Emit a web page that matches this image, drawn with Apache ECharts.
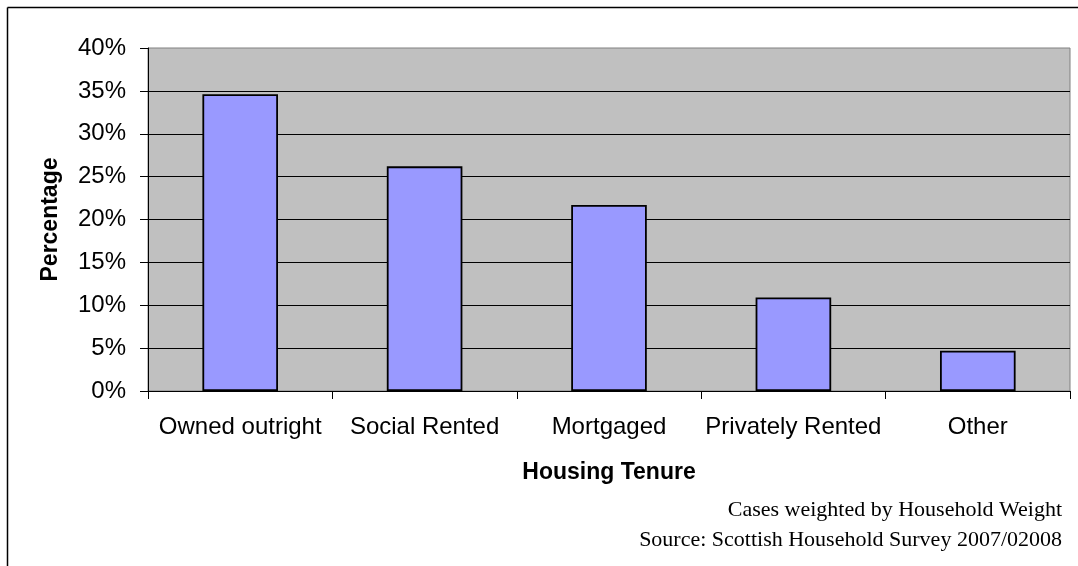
<!DOCTYPE html>
<html>
<head>
<meta charset="utf-8">
<script src="https://cdn.jsdelivr.net/npm/echarts@6/dist/echarts.min.js"></script>
<style>
  html, body { margin: 0; padding: 0; background: #fff; }
  #main { width: 1078px; height: 566px; }
</style>
</head>
<body>
<div id="main"></div>
<script>
// housing tenure shares
var categories = ["Owned outright", "Social Rented", "Mortgaged", "Privately Rented", "Other"];
var percentages = [34.6, 26.2, 21.7, 10.9, 4.7];
var noteLines = ["Cases weighted by Household Weight", "Source: Scottish Household Survey 2007/02008"];

var myChart = echarts.init(document.getElementById("main"));

var option = {
  animation: false,
  textStyle: { fontFamily: "Liberation Sans", color: "#000" },
  grid: {
    left: 148,
    top: 48,
    right: 8,
    bottom: 175,
    show: true,
    backgroundColor: "#C0C0C0",
    borderColor: "#808080",
    borderWidth: 1
  },
  xAxis: {
    type: "category",
    data: categories,
    name: "Housing Tenure",
    nameLocation: "middle",
    nameGap: 70,
    nameTextStyle: { fontSize: 23, fontWeight: "bold", color: "#000" },
    axisLine: { lineStyle: { color: "#000", width: 1 } },
    axisTick: { show: true, length: 8, lineStyle: { color: "#000" } },
    axisLabel: { fontSize: 24, color: "#000", margin: 24, interval: 0 },
    splitLine: { show: false }
  },
  yAxis: {
    type: "value",
    min: 0,
    max: 40,
    interval: 5,
    name: "Percentage",
    nameLocation: "middle",
    nameGap: 86,
    nameRotate: 90,
    nameTextStyle: { fontSize: 23, fontWeight: "bold", color: "#000" },
    axisLine: { show: true, lineStyle: { color: "#000", width: 1 } },
    axisTick: { show: true, length: 8, lineStyle: { color: "#000" } },
    axisLabel: { fontSize: 24, color: "#000", margin: 22, formatter: "{value}%" },
    splitLine: { show: true, showMaxLine: false, lineStyle: { color: "#000", width: 1 } }
  },
  series: [
    {
      type: "bar",
      data: percentages,
      barCategoryGap: "59%",
      itemStyle: { color: "#9999FF", borderColor: "#000", borderWidth: 1.8 }
    }
  ],
  graphic: [
    { type: "line", shape: { x1: 7.5, y1: 7.5, x2: 1078, y2: 7.5 }, style: { stroke: "#000", lineWidth: 1.5 } },
    { type: "line", shape: { x1: 7.5, y1: 7.5, x2: 7.5, y2: 566 }, style: { stroke: "#000", lineWidth: 1.5 } },
    {
      type: "text", right: 16, top: 499,
      style: { text: noteLines[0], font: "22px 'Liberation Serif'", fill: "#000", textAlign: "right" }
    },
    {
      type: "text", right: 16, top: 529,
      style: { text: noteLines[1], font: "22px 'Liberation Serif'", fill: "#000", textAlign: "right" }
    }
  ]
};

myChart.setOption(option);
</script>
</body>
</html>
